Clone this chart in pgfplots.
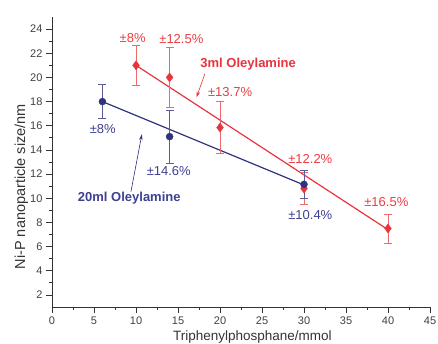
\documentclass[border=0pt]{standalone}
\usepackage{fontspec}
\setmainfont{Liberation Sans}
\usepackage{pgfplots}
\pgfplotsset{compat=1.18}
\usetikzlibrary{arrows.meta}
\definecolor{rd}{RGB}{232,52,60}
\definecolor{rdl}{RGB}{236,105,110}
\definecolor{rdt}{RGB}{235,60,66}
\definecolor{bl}{RGB}{48,50,125}
\definecolor{blt}{RGB}{62,64,145}
\pgfplotstableread{
x y e
10 21.0 1.68
14 20.0 2.5
20 15.85 2.17
30 10.8 1.3
40 7.5 1.2
}\redtab
\pgfplotstableread{
x y e
6 18.0 1.4
14 15.1 2.2
30 11.15 1.15
}\bluetab
\begin{document}
\begin{tikzpicture}
\begin{axis}[
 scale only axis, width=378pt, height=290pt,
 xmin=0,xmax=45,ymin=1,ymax=25,
 axis lines=left, axis line style={-, black!80, line width=0.8pt},
 xtick={0,5,...,45}, ytick={2,4,...,24},
 minor x tick num=1, minor y tick num=1,
 tick align=outside, major tick length=6pt, minor tick length=3pt,
 tick style={black!80, line width=0.7pt},
 ticklabel style={font=\fontsize{11}{13}\selectfont, text=black!75},
 /pgf/number format/assume math mode=true,
 xlabel={Triphenylphosphane/mmol}, ylabel={Ni-P nanoparticle size/nm},
 label style={text=black!80},
 xlabel style={font=\fontsize{13.5}{16}\selectfont, at={(axis description cs:0.53,-0.1138)}, anchor=base},
 ylabel style={font=\fontsize{14.5}{17}\selectfont, at={(axis description cs:-0.0714,0.415)}, anchor=base},
 clip=false,
]
% fit lines
\addplot[rd, line width=1.2pt, mark=none] coordinates {(10,21.0) (40,7.4)};
\addplot[bl, line width=1.2pt, mark=none] coordinates {(6,18.0) (30,11.1)};
% error bars
\addplot[draw=none, mark=none, forget plot,
  error bars/.cd, y dir=both, y explicit,
  error bar style={rdl, line width=0.8pt},
  error mark options={rdl, line width=0.8pt, mark size=4pt, rotate=90}]
  table[x=x,y=y,y error=e] {\redtab};
\addplot[draw=none, mark=none, forget plot,
  error bars/.cd, y dir=both, y explicit,
  error bar style={bl!80, line width=0.8pt},
  error mark options={bl!80, line width=0.8pt, mark size=4pt, rotate=90}]
  table[x=x,y=y,y error=e] {\bluetab};
% markers
\addplot[only marks, mark=diamond*, mark size=4.5pt, rd, mark options={fill=rd, draw=rd}] table[x=x,y=y] {\redtab};
\addplot[only marks, mark=*, mark size=3.5pt, bl, mark options={fill=bl, draw=bl}] table[x=x,y=y] {\bluetab};
% annotations
\tikzset{ann/.style={font=\fontsize{13}{15}\selectfont}}
\node[ann, text=rdt] at (axis cs:9.6,23.3) {±8\%};
\node[ann, text=rdt] at (axis cs:15.4,23.2) {±12.5\%};
\node[ann, text=rdt] at (axis cs:21.2,18.76) {±13.7\%};
\node[ann, text=rdt] at (axis cs:30.75,13.24) {±12.2\%};
\node[ann, text=rdt] at (axis cs:39.8,9.65) {±16.5\%};
\node[ann, text=rd, font=\fontsize{13}{15}\selectfont\bfseries] at (axis cs:23.35,21.1) {3ml Oleylamine};
\draw[-{Stealth[length=6pt,width=3.5pt]}, rd, line width=0.6pt] (axis cs:18.2,20.3) -- (axis cs:17.2,18.35);
\node[ann, text=blt] at (axis cs:6.04,15.72) {±8\%};
\node[ann, text=blt] at (axis cs:13.9,12.27) {±14.6\%};
\node[ann, text=blt] at (axis cs:30.75,8.6) {±10.4\%};
\node[ann, text=blt, font=\fontsize{13}{15}\selectfont\bfseries] at (axis cs:9.2,10.0) {20ml Oleylamine};
\draw[-{Stealth[length=6pt,width=3.5pt]}, bl, line width=0.6pt] (axis cs:9.4,10.55) -- (axis cs:10.7,15.3);
\end{axis}
\pgfresetboundingbox
\path (-52pt,-36pt) rectangle (386pt,307pt);
\end{tikzpicture}
\end{document}
